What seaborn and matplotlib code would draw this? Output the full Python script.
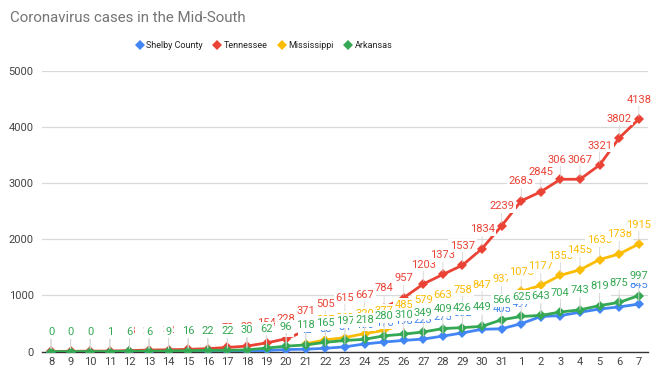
import numpy as np
import pandas as pd
import seaborn as sns
import matplotlib
matplotlib.use("Agg")
import matplotlib.pyplot as plt

# ---- data ----
dates = ["8", "9", "10", "11", "12", "13", "14", "15", "16", "17", "18", "19", "20",
         "21", "22", "23", "24", "25", "26", "27", "28", "29", "30", "31",
         "1", "2", "3", "4", "5", "6", "7"]
shelby = [0, 0, 0, 0, 0, 1, 2, 5, 7, 9, 12, 19, 36, 42, 58, 84, 135, 170, 198, 223,
          275, 332, 397, 405, 497, 624, 640, 700, 757, 795, 845]
tennessee = [3, 4, 7, 9, 18, 26, 32, 39, 52, 73, 98, 154, 228, 371, 505, 615, 667, 784,
             957, 1203, 1373, 1537, 1834, 2239, 2683, 2845, 3067, 3067, 3321, 3802, 4138]
mississippi = [np.nan] * 13 + [140, 207, 249, 320, 377, 485, 579, 663, 758, 847, 937,
                               1073, 1177, 1358, 1455, 1638, 1738, 1915]
arkansas = [0, 0, 0, 1, 6, 6, 9, 16, 22, 22, 30, 62, 96, 118, 165, 197, 218, 280, 310,
            349, 409, 426, 449, 566, 625, 643, 704, 743, 819, 875, 997]
series_names = ["Shelby County", "Tennessee", "Mississippi", "Arkansas"]
series_values = [shelby, tennessee, mississippi, arkansas]
colors = ["#4285f4", "#ea4335", "#fbbc04", "#34a853"]
y_ticks = [0, 1000, 2000, 3000, 4000, 5000]

sns.set_theme(style="white")
plt.rcParams["font.family"] = ["Roboto", "DejaVu Sans"]

rows = []
for name, vals in zip(series_names, series_values):
    for i, v in enumerate(vals):
        rows.append({"idx": i, "date": dates[i], "cases": v, "series": name})
df = pd.DataFrame(rows)

fig = plt.figure(figsize=(6.57, 3.76), dpi=100)
ax = fig.add_axes([0.064, 0.065, 0.922, 0.747])

for k, (name, col) in enumerate(zip(series_names, colors)):
    sub = df[df["series"] == name].dropna()
    sns.lineplot(data=sub, x="idx", y="cases", ax=ax, color=col, linewidth=2,
                 marker="D", markersize=5, markeredgewidth=0, label=name,
                 legend=False, zorder=3 + k)

# data labels (white boxes hide what lies beneath, as in the reference)
for k, (vals, col) in enumerate(zip(series_values, colors)):
    for i, v in enumerate(vals):
        if v is None or (isinstance(v, float) and np.isnan(v)):
            continue
        ax.annotate(str(int(v)), xy=(i, v), xytext=(0, 14), textcoords="offset points",
                    ha="center", va="center", fontsize=8, color=col,
                    bbox=dict(boxstyle="square,pad=0.15", fc="white", ec="none"),
                    arrowprops=dict(arrowstyle="-", color="#d6d6d6", lw=0.6,
                                    shrinkA=0, shrinkB=2),
                    zorder=10 + k, annotation_clip=False)

ax.set_xlim(-0.46, 30.46)
ax.set_ylim(0, 5000)
ax.set_xticks(range(len(dates)))
ax.set_xticklabels(dates)
ax.set_yticks(y_ticks)
ax.set_yticklabels([str(t) for t in y_ticks])
ax.tick_params(axis="both", labelsize=8, colors="#444444", length=0, pad=4)
ax.tick_params(axis="y", pad=6)
ax.grid(axis="y", color="#d9d9d9", linewidth=0.9)
ax.grid(axis="x", visible=False)
for s in ["top", "right", "left"]:
    ax.spines[s].set_visible(False)
ax.spines["bottom"].set_color("#333333")
ax.spines["bottom"].set_linewidth(1)
ax.set_xlabel("")
ax.set_ylabel("")

fig.text(0.015, 0.953, "Coronavirus cases in the Mid-South", fontsize=10.8,
         color="#757575", ha="left", va="center")

handles = [plt.Line2D([], [], linestyle="none", marker="D", markersize=5.5,
                      markerfacecolor=c, markeredgewidth=0) for c in colors]
fig.legend(handles, series_names, loc="center", bbox_to_anchor=(0.401, 1 - 46 / 376),
           ncol=4, frameon=False, fontsize=6.5, handletextpad=0.1, columnspacing=1.0,
           labelcolor="#222222", handlelength=1.2)

fig.savefig("out.png", dpi=100)
